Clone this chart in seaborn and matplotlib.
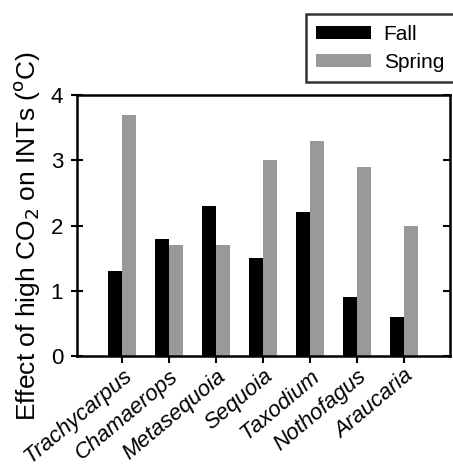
import matplotlib
matplotlib.use("Agg")
import matplotlib.pyplot as plt
import matplotlib.lines as mlines
import seaborn as sns
import pandas as pd

genera = ["Trachycarpus", "Chamaerops", "Metasequoia", "Sequoia", "Taxodium", "Nothofagus", "Araucaria"]
fall = [1.3, 1.8, 2.3, 1.5, 2.2, 0.9, 0.6]
spring = [3.7, 1.7, 1.7, 3.0, 3.3, 2.9, 2.0]
seasons = ["Fall", "Spring"]
yticks = [0, 1, 2, 3, 4]

df = pd.DataFrame({
    "genus": genera * 2,
    "season": ["Fall"] * len(genera) + ["Spring"] * len(genera),
    "value": fall + spring,
})

sns.set_theme(style="ticks")
plt.rcParams["font.family"] = ["Liberation Sans", "DejaVu Sans"]
plt.rcParams["text.color"] = "black"
plt.rcParams["axes.labelcolor"] = "black"
plt.rcParams["xtick.color"] = "black"
plt.rcParams["ytick.color"] = "black"

fig = plt.figure(figsize=(4.53, 4.71), dpi=100)
ax = fig.add_axes([77 / 453, 1 - 356 / 471, (450 - 77) / 453, (356 - 95) / 471])

sns.barplot(data=df, x="genus", y="value", hue="season", order=genera, hue_order=seasons,
            palette={"Fall": "#000000", "Spring": "#999999"}, width=0.6, saturation=1,
            edgecolor="none", linewidth=0, ax=ax)

ax.set_xlim(-0.96, 6.98)
ax.set_ylim(0, 4)
ax.set_yticks(yticks)
ax.set_yticklabels([str(t) for t in yticks], fontsize=16)
ax.set_xlabel("")
ax.set_ylabel("Effect of high CO$_2$ on INTs ($^{\\rm o}$C)", fontsize=19)
ax.yaxis.set_label_coords(-0.095, 0.46)
ax.set_xticks(range(len(genera)))
ax.set_xticklabels(genera, rotation=40, ha="right", rotation_mode="anchor", fontsize=16, style="italic")

for s in ax.spines.values():
    s.set_linewidth(1.8)
    s.set_color("black")
ax.tick_params(axis="y", direction="inout", length=8, width=1.5, right=True, labelright=False, pad=6)
ax.tick_params(axis="x", direction="out", length=5, width=1.5, pad=2)
for t in ax.yaxis.get_major_ticks():
    t.tick2line.set_marker(mlines.TICKLEFT)
    t.tick2line.set_markersize(5)

leg = ax.legend(loc="upper right", bbox_to_anchor=(1.012, 1.31), borderaxespad=0, frameon=True, fancybox=False,
                fontsize=15, handlelength=2.65, handleheight=0.6, borderpad=0.5, labelspacing=0.45,
                handletextpad=0.6, edgecolor="black")
leg.get_frame().set_linewidth(1.8)
leg.set_title(None)

fig.savefig("out.png", dpi=100)
